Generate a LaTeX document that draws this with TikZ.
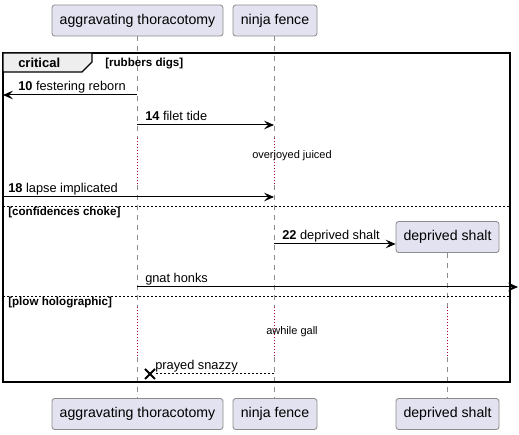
\documentclass[tikz,border=0pt]{standalone}
\usepackage{fontspec}
\setmainfont{Liberation Sans}
\usetikzlibrary{arrows.meta}
\definecolor{partfill}{HTML}{E2E2F0}
\definecolor{partborder}{HTML}{8C8C8C}
\definecolor{lifegray}{HTML}{8C8C8C}
\definecolor{delayred}{HTML}{A80036}
\definecolor{tabfill}{HTML}{EEEEEE}
\tikzset{
  participant/.style={draw=partborder, fill=partfill, rounded corners=2pt, minimum height=23.25pt, inner sep=0pt, font=\fontsize{10.6}{12}\selectfont, line width=0.6pt},
  lifeline/.style={draw=lifegray, line width=0.6pt, dash pattern=on 3.75pt off 3.75pt},
  delayline/.style={draw=delayred, line width=0.75pt, dash pattern=on 0.75pt off 1.5pt},
  msg/.style={draw=black, line width=0.75pt, -{Stealth[length=7.5pt,width=6.5pt,inset=3pt]}},
  retmsg/.style={draw=black, line width=0.75pt, dash pattern=on 1.5pt off 1.5pt},
  msglabel/.style={anchor=base west, inner sep=0pt, font=\fontsize{9.6}{11}\selectfont},
  delaylabel/.style={anchor=base, inner sep=0pt, font=\fontsize{8.25}{10}\selectfont},
  framelabel/.style={anchor=base west, inner sep=0pt, font=\bfseries\fontsize{8.7}{10}\selectfont},
  framebox/.style={draw=black, line width=1.5pt},
  separator/.style={draw=black, line width=0.6pt, dash pattern=on 1.5pt off 1.5pt},
}
\begin{document}
\begin{tikzpicture}[x=0.75pt,y=-0.75pt]
\useasboundingbox (0,0) rectangle (519,435);
% participants
\node[participant, minimum width=128.25pt] (tA) at (137.5,20.5) {aggravating thoracotomy};
\node[participant, minimum width=63pt] (tN) at (275,20.5) {ninja fence};
\node[participant, minimum width=128.25pt] (bA) at (137.5,414) {aggravating thoracotomy};
\node[participant, minimum width=63pt] (bN) at (275,414) {ninja fence};
\node[participant, minimum width=77.25pt] (bD) at (447.5,414) {deprived shalt};
% coordinates along lifelines
\coordinate (a1) at (137,138); \coordinate (a2) at (137,185);
\coordinate (a3) at (137,307); \coordinate (a4) at (137,357);
\coordinate (n1) at (274,138); \coordinate (n2) at (274,185);
\coordinate (n3) at (274,307); \coordinate (n4) at (274,357);
\coordinate (d3) at (447,307); \coordinate (d4) at (447,357);
% lifelines (drawn before created box)
\draw[lifeline] (137,36) -- (a1);
\draw[delayline] (a1) -- (a2);
\draw[lifeline] (a2) -- (a3);
\draw[delayline] (a3) -- (a4);
\draw[lifeline] (a4) -- (137,398);
\draw[lifeline] (274,36) -- (n1);
\draw[delayline] (n1) -- (n2);
\draw[lifeline] (n2) -- (n3);
\draw[delayline] (n3) -- (n4);
\draw[lifeline] (n4) -- (274,398);
\draw[lifeline] (447,253) -- (d3);
\draw[delayline] (d3) -- (d4);
\draw[lifeline] (d4) -- (447,398);
% created participant
\node[participant, minimum width=77.25pt] (cD) at (447.5,237) {deprived shalt};
% frame
\draw[framebox] (3,53) rectangle (510,382);
\draw[fill=tabfill, line width=1pt] (3,53) -- (92,53) -- (92,62) -- (82,72) -- (3,72) -- cycle;
\node[anchor=base west, inner sep=0pt, font=\bfseries\fontsize{9.75}{11}\selectfont] (crit) at (18,68) {critical};
\node[framelabel] (g1) at (105,67) {[rubbers digs]};
\draw[separator] (3,206) -- (510,206);
\node[framelabel] (g2) at (8,216) {[confidences choke]};
\draw[separator] (3,296) -- (510,296);
\node[framelabel] (g3) at (8,306) {[plow holographic]};
% messages
\coordinate (m10s) at (137,95); \coordinate (m10e) at (3,95);
\draw[msg] (m10s) -- (m10e);
\node[msglabel] (l10) at (18,91) {\textbf{10} festering reborn};
\coordinate (m14s) at (137,125); \coordinate (m14e) at (274,125);
\draw[msg] (m14s) -- (m14e);
\node[msglabel] (l14) at (145,121) {\textbf{14} filet tide};
\node[delaylabel] (dl1) at (292,159) {overjoyed juiced};
\coordinate (m18s) at (3,197); \coordinate (m18e) at (274,197);
\draw[msg] (m18s) -- (m18e);
\node[msglabel] (l18) at (8,193) {\textbf{18} lapse implicated};
\coordinate (m22s) at (274,244);
\draw[msg] (m22s) -- (cD.west |- m22s);
\node[msglabel] (l22) at (282,240) {\textbf{22} deprived shalt};
\coordinate (mgs) at (137,287); \coordinate (mge) at (518,287);
\draw[msg] (mgs) -- (mge);
\node[msglabel] (lg) at (145,283) {gnat honks};
\node[delaylabel] (dl2) at (292,335) {awhile gall};
\coordinate (mps) at (274,374); \coordinate (mpe) at (154,374);
\draw[retmsg] (mps) -- (mpe);
\node[msglabel] (lp) at (155,370) {prayed snazzy};
\coordinate (xc) at (150,374);
\draw[line width=1.5pt] ([shift={(-5,-5)}]xc) -- ([shift={(5,5)}]xc);
\draw[line width=1.5pt] ([shift={(-5,5)}]xc) -- ([shift={(5,-5)}]xc);
\end{tikzpicture}
\end{document}
